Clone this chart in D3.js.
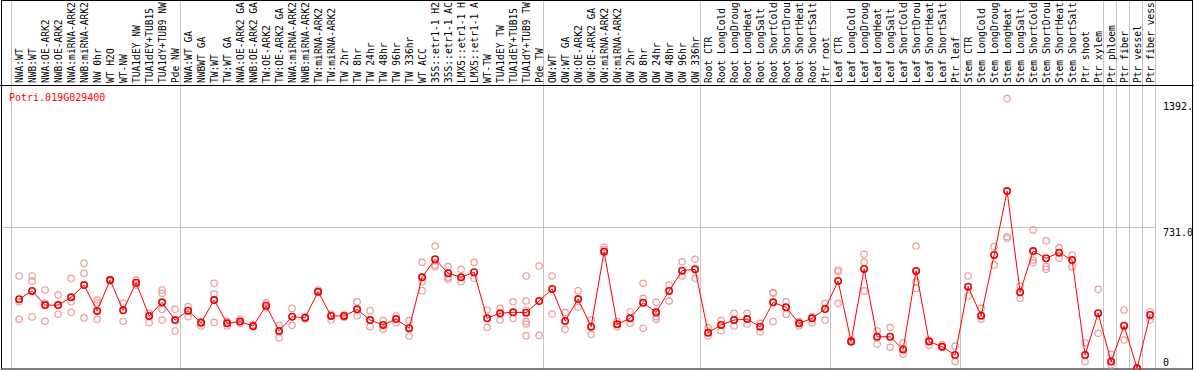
<!DOCTYPE html>
<html lang="en">
  <head>
    <meta charset="utf-8">
    <title>Potri.019G029400</title>
    <script src="https://d3js.org/d3.v7.min.js"></script>
    <style>
      body { margin: 0; background: #fff; }
      text { font-family: "DejaVu Sans Mono", monospace; font-size: 10px; }
    </style>
  </head>
  <body>
    <div id="my_dataviz"></div>
    <script>

      // gene shown in the top left corner
      const geneName = "Potri.019G029400";

      // sample names (one column each)
      const labels = [
        "NWA:WT", "NWB:WT", "NWA:OE-ARK2", "NWB:OE-ARK2", "NWA:miRNA-ARK2", "NWB:miRNA-ARK2",
        "NW 0hr", "WT H2O", "WT-NW", "TUA1dEY NW", "TUA1dEY+TUB15", "TUA1dY+TUB9 NW", "Pde NW",
        "NWA:WT GA", "NWBWT GA", "TW:WT", "TW:WT GA", "NWA:OE-ARK2 GA", "NWB:OE-ARK2 GA",
        "TW:OE-ARK2", "TW:OE-ARK2 GA", "NWA:miRNA-ARK2", "NWB:miRNA-ARK2", "TW:miRNA-ARK2",
        "TW:miRNA-ARK2", "TW 2hr", "TW 8hr", "TW 24hr", "TW 48hr", "TW 96hr", "TW 336hr",
        "WT ACC", "35S::etr1-1 H2", "35S::etr1-1 AC", "LMX5::etr1-1 H", "LMX5::etr1-1 A",
        "WT-TW", "TUA1dEY TW", "TUA1dEY+TUB15", "TUA1dY+TUB9 TW", "Pde TW",
        "OW:WT", "OW:WT GA", "OW:OE-ARK2", "OW:OE-ARK2 GA", "OW:miRNA-ARK2", "OW:miRNA-ARK2",
        "OW 2hr", "OW 8hr", "OW 24hr", "OW 48hr", "OW 96hr", "OW 336hr",
        "Root CTR", "Root LongCold", "Root LongDroug", "Root LongHeat", "Root LongSalt",
        "Root ShortCold", "Root ShortDrou", "Root ShortHeat", "Root ShortSalt", "Ptr root",
        "Leaf CTR", "Leaf LongCold", "Leaf LongDroug", "Leaf LongHeat", "Leaf LongSalt",
        "Leaf ShortCold", "Leaf ShortDrou", "Leaf ShortHeat", "Leaf ShortSalt", "Ptr leaf",
        "Stem CTR", "Stem LongCold", "Stem LongDroug", "Stem LongHeat", "Stem LongSalt",
        "Stem ShortCold", "Stem ShortDrou", "Stem ShortHeat", "Stem ShortSalt", "Ptr shoot",
        "Ptr xylem", "Ptr phloem", "Ptr fiber", "Ptr vessel", "Ptr fiber vess"
      ];

      // mean expression per sample
      const means = [
        359, 402, 329, 329, 369, 432, 299, 458, 302, 444, 273, 343, 252,
        300, 238, 355, 235, 244, 221, 326, 196, 269, 264, 398, 273, 273, 307, 252,
        227, 257, 210, 472, 565, 493, 472, 498, 261, 287, 292, 290, 350,
        412, 247, 360, 218, 604, 230, 261, 341, 292, 402, 506, 513,
        187, 227, 252, 257, 218, 343, 318, 235, 261, 309,
        453, 141, 515, 166, 166, 101, 505, 141, 115, 72,
        424, 274, 587, 916, 395, 607, 570, 599, 561, 72, 287,
        38, 223, 4, 278
      ];

      // replicate values per sample
      const reps = [
        [479, 346, 256], [479, 453, 268], [407, 340, 246], [381, 282], [467, 346, 292],
        [544, 493, 263], [355, 340, 256], [458, 453, 460], [338, 246], [458, 432],
        [287, 238], [407, 390, 307, 252], [307, 196],
        [321, 269], [244, 221], [441, 386, 240], [244, 221], [256, 235], [227, 218],
        [341, 316], [225, 160], [312, 225], [269, 259], [407, 393], [282, 252], [278, 266],
        [346, 274], [300, 218], [249, 204], [273, 238], [249, 170], [549, 449, 403],
        [633, 535, 527], [527, 472, 462], [513, 449], [549, 467], [304, 215], [312, 252],
        [346, 261], [479, 350, 304, 244, 232, 171], [530, 173],
        [479, 283], [290, 204], [403, 318], [252, 179], [627, 613], [244, 218],
        [295, 235], [441, 364, 210], [343, 269, 256], [432, 350], [552, 479], [565, 467],
        [213, 170], [249, 197], [287, 221], [287, 232], [235, 192], [393, 390, 244],
        [346, 282], [244, 221], [269, 238], [338, 252],
        [510, 501, 338], [149, 139], [590, 549, 402], [196, 129], [213, 112], [135, 76],
        [633, 449, 415], [149, 122], [124, 112], [118, 38],
        [479, 376], [312, 256], [630, 535], [1392, 681, 673], [427, 364], [716, 561, 547],
        [660, 527, 513], [624, 570], [587, 527], [135, 38], [410, 184],
        [76, 21], [304, 149], [6, 2], [295, 252]
      ];

      // column index where each group starts (last one closes the table)
      const groupBreaks = [0, 13, 41, 53, 63, 73, 84, 85, 86, 87, 88];

      // right hand scale
      const yTicks = [0, 731, 1392];
      const yTickLabels = ["0", "731.0", "1392."];
      const yMax = 1462;

      const width = 1194, height = 370;
      const headerH = 85;

      const svg = d3.select("#my_dataviz")
        .append("svg")
          .attr("width", width)
          .attr("height", height);

      // column edges, points sit a bit right of the edge
      const x = d3.scaleLinear().domain([0, labels.length]).range([10.5, 1154.5]);
      const px = i => x(i) + 8.6;
      const y = d3.scaleLinear().domain([0, yMax]).range([369, headerH]);

      // group separators (gray), go through the header too
      svg.append("g")
        .selectAll("line")
        .data(groupBreaks)
        .join("line")
          .attr("x1", d => Math.round(x(d)) + 0.5)
          .attr("x2", d => Math.round(x(d)) + 0.5)
          .attr("y1", 0)
          .attr("y2", 369)
          .attr("stroke", "#c4c4c4")
          .attr("stroke-width", 1);

      // middle grid line
      svg.append("line")
        .attr("x1", 1.5)
        .attr("x2", x(labels.length))
        .attr("y1", Math.round(y(731)) + 0.5)
        .attr("y2", Math.round(y(731)) + 0.5)
        .attr("stroke", "#c4c4c4");

      // frame
      svg.append("rect")
        .attr("x", 1.5).attr("y", 0.5)
        .attr("width", 1191).attr("height", 368.5)
        .attr("fill", "none")
        .attr("stroke", "#000");
      svg.append("line")
        .attr("x1", 0).attr("x2", width)
        .attr("y1", headerH + 0.5).attr("y2", headerH + 0.5)
        .attr("stroke", "#000");

      // sample labels, rotated (a hair smaller so the long ones fit the header)
      svg.append("g")
        .selectAll("text")
        .data(labels)
        .join("text")
          .attr("transform", (d, i) => `translate(${px(i) + 3.5},83) rotate(-90)`)
          .style("font-size", "9.6px")
          .attr("fill", "#000")
          .text(d => d);

      // gene title
      svg.append("text")
        .attr("x", 9)
        .attr("y", 101)
        .attr("fill", "#f00")
        .text(geneName);

      // replicates (light)
      const repPts = [];
      reps.forEach((r, i) => r.forEach(v => repPts.push({i: i, v: v})));
      svg.append("g")
        .selectAll("circle")
        .data(repPts)
        .join("circle")
          .attr("cx", d => px(d.i))
          .attr("cy", d => y(d.v))
          .attr("r", 3.2)
          .attr("fill", "none")
          .attr("stroke", "#ec9a9a")
          .attr("stroke-width", 1.2);

      // line through the means
      svg.append("path")
        .datum(means)
        .attr("fill", "none")
        .attr("stroke", "#f00")
        .attr("stroke-width", 1)
        .attr("d", d3.line()
          .x((d, i) => px(i))
          .y(d => y(d)));

      // means
      svg.append("g")
        .selectAll("circle")
        .data(means)
        .join("circle")
          .attr("cx", (d, i) => px(i))
          .attr("cy", d => y(d))
          .attr("r", 3.2)
          .attr("fill", "none")
          .attr("stroke", "#e00")
          .attr("stroke-width", 1.6);

      // right axis labels
      svg.append("g")
        .selectAll("text")
        .data(yTicks)
        .join("text")
          .attr("x", 1163)
          .attr("y", d => Math.max(Math.min(y(d) + 9, 366), 110))
          .attr("fill", "#000")
          .text((d, i) => yTickLabels[i]);

    </script>
  </body>
</html>
